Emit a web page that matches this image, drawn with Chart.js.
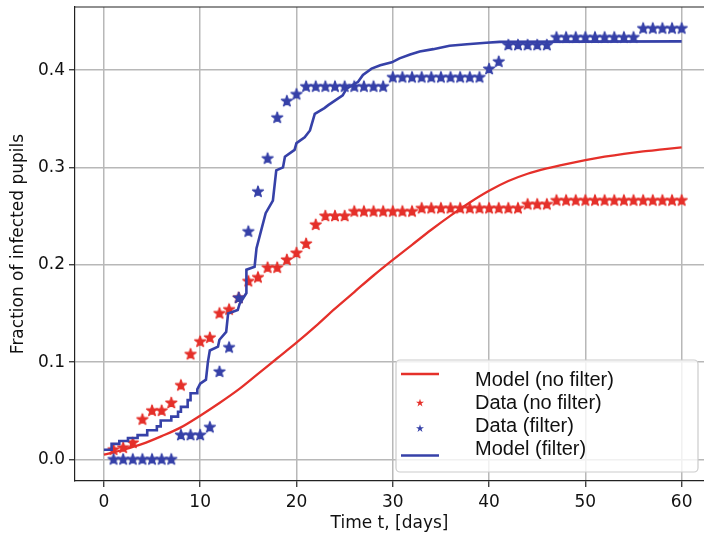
<!DOCTYPE html>
<html>
<head>
<meta charset="utf-8">
<script src="https://cdn.jsdelivr.net/npm/chart.js@4.4.1/dist/chart.umd.min.js"></script>
<style>
  html, body { margin: 0; padding: 0; background: #fff; }
  #wrap { width: 704px; height: 538px; }
</style>
</head>
<body>
<div id="wrap"><canvas id="infectionChart" width="704" height="538"></canvas></div>
<script>
  'use strict';

  const RED = '#e5302a';
  const BLUE = '#3641a8';

  // Observation days (1..60)
  const dataDays = [
    1, 2, 3, 4, 5, 6, 7, 8, 9, 10, 11, 12, 13, 14, 15, 16, 17, 18, 19, 20,
    21, 22, 23, 24, 25, 26, 27, 28, 29, 30, 31, 32, 33, 34, 35, 36, 37, 38, 39, 40,
    41, 42, 43, 44, 45, 46, 47, 48, 49, 50, 51, 52, 53, 54, 55, 56, 57, 58, 59, 60
  ];

  // Observed fraction infected, no filter
  const dataNoFilter = [
    0.010, 0.012, 0.017, 0.041, 0.050, 0.050, 0.058, 0.076, 0.108, 0.121,
    0.125, 0.150, 0.154, 0.166, 0.183, 0.187, 0.197, 0.197, 0.205, 0.212,
    0.2215, 0.241, 0.250, 0.250, 0.250, 0.2547, 0.2547, 0.2547, 0.2547, 0.2547,
    0.2547, 0.2547, 0.258, 0.258, 0.258, 0.258, 0.258, 0.258, 0.258, 0.258,
    0.258, 0.258, 0.258, 0.262, 0.262, 0.262, 0.266, 0.266, 0.266, 0.266,
    0.266, 0.266, 0.266, 0.266, 0.266, 0.266, 0.266, 0.266, 0.266, 0.266
  ];

  // Observed fraction infected, filter
  const dataFilter = [
    0.0, 0.0, 0.0, 0.0, 0.0, 0.0, 0.0, 0.025, 0.025, 0.025,
    0.033, 0.090, 0.115, 0.166, 0.234, 0.275, 0.309, 0.351, 0.368, 0.375,
    0.383, 0.383, 0.383, 0.383, 0.383, 0.383, 0.383, 0.383, 0.383, 0.3925,
    0.3925, 0.3925, 0.3925, 0.3925, 0.3925, 0.3925, 0.3925, 0.3925, 0.3925, 0.401,
    0.4085, 0.4256, 0.4256, 0.4256, 0.4256, 0.4256, 0.4335, 0.4335, 0.4335, 0.4335,
    0.4335, 0.4335, 0.4335, 0.4335, 0.4335, 0.4427, 0.4427, 0.4427, 0.4427, 0.4427
  ];

  // Model without filter (smooth curve)
  const modelNoFilterDays = [
    0, 2, 4, 6, 8, 10, 12, 14, 16, 18, 20, 22, 24, 26, 28, 30,
    32, 34, 36, 38, 40, 42, 44, 46, 48, 50, 52, 54, 56, 58, 60
  ];
  const modelNoFilter = [
    0.005, 0.010, 0.016, 0.024, 0.033, 0.045, 0.058, 0.072, 0.088, 0.104, 0.120,
    0.137, 0.155, 0.172, 0.189, 0.205, 0.2205, 0.236, 0.2505, 0.2640, 0.2760,
    0.2860, 0.2935, 0.2990, 0.3035, 0.3075, 0.3110, 0.3140, 0.3165, 0.3185, 0.3205
  ];

  // Model with filter: vertices of the simulated staircase
  const modelFilterDays = [
    0, 0.8, 0.8, 1.6, 1.6, 2.5, 2.5, 3.5, 3.5, 4.5, 4.5, 5.5, 5.5, 5.9, 5.9,
    7.0, 7.0, 7.7, 7.7, 8.0, 8.0, 8.7, 8.7, 9.0, 9.0, 9.7, 9.7, 10.0, 10.6,
    10.8, 11.0, 11.85, 12.0, 12.7, 12.9, 13.9, 14.1, 14.8, 14.8, 15.65, 15.85,
    16.8, 17.55, 17.9, 18.6, 18.8, 19.8, 20.0, 20.85, 21.4, 21.9, 22.9, 23.3,
    24.8, 25.2, 26.4, 26.9, 27.8, 28.7, 29.9, 30.7, 31.8, 32.8, 34.2, 35.9,
    37.7, 39.7, 41.1, 60
  ];
  const modelFilter = [
    0.010, 0.010, 0.016, 0.016, 0.019, 0.019, 0.022, 0.022, 0.025, 0.025, 0.030, 0.030, 0.034, 0.034, 0.040,
    0.040, 0.044, 0.044, 0.049, 0.049, 0.054, 0.054, 0.061, 0.061, 0.068, 0.068, 0.072, 0.078, 0.082,
    0.100, 0.112, 0.116, 0.123, 0.131, 0.150, 0.1535, 0.160, 0.171, 0.195, 0.198, 0.217,
    0.253, 0.266, 0.297, 0.300, 0.311, 0.318, 0.325, 0.331, 0.338, 0.355, 0.361, 0.364,
    0.374, 0.381, 0.388, 0.395, 0.4015, 0.405, 0.408, 0.412, 0.416, 0.419, 0.4215, 0.425,
    0.4265, 0.428, 0.429, 0.4295
  ];

  const xTicks = [0, 10, 20, 30, 40, 50, 60];
  const yTicks = [0.0, 0.1, 0.2, 0.3, 0.4];

  const legendLabels = ['Model (no filter)', 'Data (no filter)', 'Data (filter)', 'Model (filter)'];

  function toPoints(xs, ys) {
    return xs.map((x, i) => ({ x, y: ys[i] }));
  }

  function starPath(ctx, cx, cy, outer) {
    const inner = outer * 0.382;
    ctx.beginPath();
    for (let i = 0; i < 10; i++) {
      const r = i % 2 ? inner : outer;
      const a = -Math.PI / 2 + i * Math.PI / 5;
      ctx.lineTo(cx + r * Math.cos(a), cy + r * Math.sin(a));
    }
    ctx.closePath();
  }

  // Filled five-pointed star sprite used as point style
  function makeStar(color, outer) {
    const size = Math.ceil(outer * 2 + 4);
    const c = document.createElement('canvas');
    c.width = size;
    c.height = size;
    const g = c.getContext('2d');
    starPath(g, size / 2, size / 2, outer);
    g.fillStyle = color;
    g.fill();
    g.strokeStyle = color;
    g.lineWidth = 1.4;
    g.lineJoin = 'round';
    g.stroke();
    return c;
  }

  // Top frame line plus the boxed key inside the plot area
  const frameAndKey = {
    id: 'frameAndKey',
    afterDraw(chart) {
      const { ctx, chartArea } = chart;
      ctx.save();
      ctx.strokeStyle = '#222';
      ctx.lineWidth = 1.2;
      ctx.beginPath();
      ctx.moveTo(chartArea.left, chartArea.top);
      ctx.lineTo(chartArea.right, chartArea.top);
      ctx.stroke();

      const w = 302, h = 112;
      const bx = chartArea.right - 6 - w;
      const by = chartArea.bottom - 9 - h;
      ctx.beginPath();
      ctx.roundRect(bx, by, w, h, 4);
      ctx.fillStyle = 'rgba(255,255,255,0.8)';
      ctx.fill();
      ctx.strokeStyle = '#cccccc';
      ctx.lineWidth = 1.2;
      ctx.stroke();

      const textX = bx + 79;
      const rows = [by + 20, by + 43, by + 66.5, by + 89.5];
      ctx.font = '20px "Liberation Sans", Arial, sans-serif';
      ctx.fillStyle = '#111';
      ctx.textBaseline = 'middle';
      ctx.textAlign = 'left';
      legendLabels.forEach((t, i) => ctx.fillText(t, textX, rows[i]));

      ctx.lineWidth = 2.5;
      ctx.strokeStyle = RED;
      ctx.beginPath();
      ctx.moveTo(bx + 5, by + 14);
      ctx.lineTo(bx + 43, by + 14);
      ctx.stroke();

      starPath(ctx, bx + 24, rows[1], 4.2);
      ctx.fillStyle = RED;
      ctx.fill();
      starPath(ctx, bx + 24, rows[2] + 2, 4.2);
      ctx.fillStyle = BLUE;
      ctx.fill();

      ctx.strokeStyle = BLUE;
      ctx.beginPath();
      ctx.moveTo(bx + 5, by + 95.5);
      ctx.lineTo(bx + 43, by + 95.5);
      ctx.stroke();
      ctx.restore();
    }
  };

  const tickFont = { family: '"DejaVu Sans", sans-serif', size: 17 };
  const gridCfg = {
    color: '#b8b8b8',
    lineWidth: 1.5,
    tickLength: 6,
    tickColor: '#222',
    tickWidth: 1.2
  };

  new Chart(document.getElementById('infectionChart'), {
    type: 'line',
    data: {
      datasets: [
        {
          label: legendLabels[0],
          data: toPoints(modelNoFilterDays, modelNoFilter),
          borderColor: RED,
          borderWidth: 2.3,
          pointRadius: 0,
          cubicInterpolationMode: 'monotone',
          order: 4
        },
        {
          label: legendLabels[1],
          data: toPoints(dataDays, dataNoFilter),
          showLine: false,
          pointStyle: makeStar(RED, 5.7),
          pointRadius: 6,
          order: 3
        },
        {
          label: legendLabels[2],
          data: toPoints(dataDays, dataFilter),
          showLine: false,
          pointStyle: makeStar(BLUE, 5.7),
          pointRadius: 6,
          order: 2
        },
        {
          label: legendLabels[3],
          data: toPoints(modelFilterDays, modelFilter),
          borderColor: BLUE,
          borderWidth: 2.6,
          pointRadius: 0,
          tension: 0,
          order: 1
        }
      ]
    },
    options: {
      responsive: false,
      animation: false,
      layout: { autoPadding: false, padding: { left: 0, top: 7, right: 0, bottom: 0 } },
      plugins: {
        legend: { display: false },
        tooltip: { enabled: false }
      },
      scales: {
        x: {
          type: 'linear',
          min: -3,
          max: 62.32,
          afterBuildTicks: scale => { scale.ticks = xTicks.map(v => ({ value: v })); },
          afterFit: scale => {
            scale.height = 57;
            scale.paddingLeft = 0;
            scale.paddingRight = 0;
          },
          ticks: { color: '#111', font: tickFont, padding: 5, maxRotation: 0 },
          grid: gridCfg,
          border: { color: '#222', width: 1.2 },
          title: {
            display: true,
            text: 'Time t, [days]',
            color: '#111',
            font: tickFont,
            padding: { top: 0, bottom: 4 }
          }
        },
        y: {
          type: 'linear',
          min: -0.0221,
          max: 0.4648,
          afterBuildTicks: scale => { scale.ticks = yTicks.map(v => ({ value: v })); },
          afterFit: scale => {
            scale.width = 75;
            scale.paddingTop = 0;
            scale.paddingBottom = 0;
          },
          ticks: {
            color: '#111',
            font: tickFont,
            padding: 4,
            callback: v => v.toFixed(1)
          },
          grid: gridCfg,
          border: { color: '#222', width: 1.2 },
          title: {
            display: true,
            text: 'Fraction of infected pupils',
            color: '#111',
            font: tickFont,
            padding: { top: 8, bottom: 0 }
          }
        }
      }
    },
    plugins: [frameAndKey]
  });
</script>
</body>
</html>
